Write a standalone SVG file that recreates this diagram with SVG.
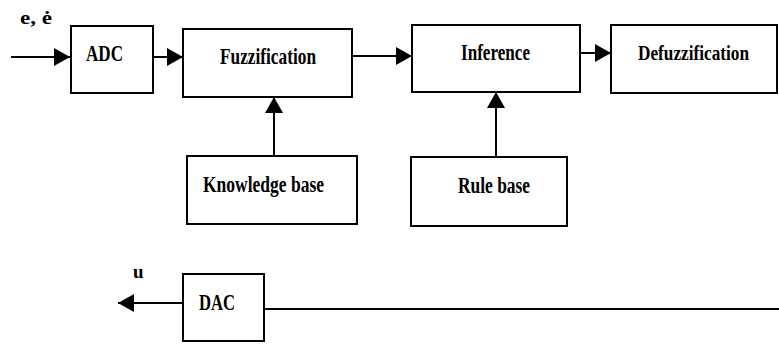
<svg xmlns="http://www.w3.org/2000/svg" width="779" height="344" viewBox="0 0 779 344">
<style>
.box{fill:#fff;stroke:#000;stroke-width:2}
.lbl{font-family:"Liberation Serif","Times New Roman",serif;font-weight:bold;font-size:23px;fill:#000;text-anchor:middle}
.sm{font-family:"Liberation Serif","Times New Roman",serif;font-weight:bold;font-size:19px;fill:#000}
.con{stroke:#000;stroke-width:2;fill:none}
</style>
<defs>
<marker id="ah" viewBox="0 0 16 20" refX="16" refY="10" markerWidth="16" markerHeight="20" markerUnits="userSpaceOnUse" orient="auto">
<path d="M0,1 L16,10 L0,19 z" fill="#000"/>
</marker>
</defs>
<rect width="779" height="344" fill="#fff"/>
<g id="connectors">
<path class="con" d="M11,57 H70" marker-end="url(#ah)"/>
<path class="con" d="M153,57 H183" marker-end="url(#ah)"/>
<path class="con" d="M352,56 H412" marker-end="url(#ah)"/>
<path class="con" d="M580,53 H611" marker-end="url(#ah)"/>
<path class="con" d="M274,156 V97" marker-end="url(#ah)"/>
<path class="con" d="M496,157 V92" marker-end="url(#ah)"/>
<path class="con" d="M183,303 H118" marker-end="url(#ah)"/>
<path class="con" d="M264,309 H779"/>
</g>
<g id="in-label"><text class="sm" x="20" y="24" textLength="32" lengthAdjust="spacingAndGlyphs">e,  ė</text></g>
<g id="out-label"><text class="sm" x="133" y="278">u</text></g>
<g id="adc"><rect class="box" x="71" y="26" width="82" height="67"/><text class="lbl" x="104.5" y="61" textLength="37" lengthAdjust="spacingAndGlyphs">ADC</text></g>
<g id="fuzzification"><rect class="box" x="183" y="29" width="169" height="68"/><text class="lbl" x="268" y="64" textLength="96" lengthAdjust="spacingAndGlyphs">Fuzzification</text></g>
<g id="inference"><rect class="box" x="412" y="25" width="168" height="67"/><text class="lbl" x="495.5" y="60" textLength="69" lengthAdjust="spacingAndGlyphs">Inference</text></g>
<g id="defuzzification"><rect class="box" x="611" y="25" width="166" height="68"/><text class="lbl" x="693.5" y="60" style="font-size:20px" textLength="111" lengthAdjust="spacingAndGlyphs">Defuzzification</text></g>
<g id="knowledge-base"><rect class="box" x="187" y="156" width="170" height="68"/><text class="lbl" x="263.5" y="192" textLength="121" lengthAdjust="spacingAndGlyphs">Knowledge base</text></g>
<g id="rule-base"><rect class="box" x="411" y="157" width="156" height="69"/><text class="lbl" x="494" y="193" textLength="72" lengthAdjust="spacingAndGlyphs">Rule base</text></g>
<g id="dac"><rect class="box" x="183" y="274" width="81" height="67"/><text class="lbl" x="217" y="310" textLength="36" lengthAdjust="spacingAndGlyphs">DAC</text></g>
</svg>
